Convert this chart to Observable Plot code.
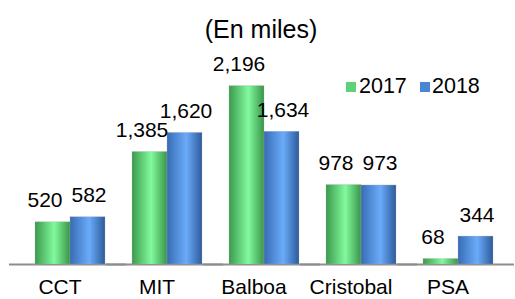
<!DOCTYPE html>
<html>
<head>
<meta charset="utf-8">
<script src="https://cdn.jsdelivr.net/npm/d3@7"></script>
<script src="https://cdn.jsdelivr.net/npm/@observablehq/plot@0.6"></script>
<style>
  html, body { margin: 0; padding: 0; background: #fff; }
  body { font-family: Arial, "Liberation Sans", sans-serif; }
  #wrap { position: relative; width: 515px; height: 299px; overflow: hidden; }
  #title { position: absolute; left: 0; width: 522px; top: 17px; text-align: center; font-size: 25px; line-height: 25px; color: #000; }
  .sw { position: absolute; width: 10px; height: 10px; top: 82px; }
  .lt { position: absolute; top: 76px; font-size: 21.5px; line-height: 21px; color: #000; }
  #chart { position: absolute; left: 0; top: 0; }
</style>
</head>
<body>
<svg width="0" height="0" style="position:absolute">
  <defs>
    <linearGradient id="g17" x1="0" x2="1" y1="0" y2="0">
      <stop offset="0" stop-color="#3b9a4c"/>
      <stop offset="0.55" stop-color="#82fa9d"/>
      <stop offset="1" stop-color="#389549"/>
    </linearGradient>
    <linearGradient id="g18" x1="0" x2="1" y1="0" y2="0">
      <stop offset="0" stop-color="#386cb4"/>
      <stop offset="0.55" stop-color="#6aabfa"/>
      <stop offset="1" stop-color="#2d5b9b"/>
    </linearGradient>
  </defs>
</svg>
<div id="wrap">
  <div id="chart"></div>
  <div id="title">(En miles)</div>
  <div class="sw" style="left:346px;background:#5dd27a"></div>
  <div class="lt" style="left:359px">2017</div>
  <div class="sw" style="left:420px;background:#4a86d6"></div>
  <div class="lt" style="left:432px">2018</div>
</div>
<script>
const categories = ["CCT", "MIT", "Balboa", "Cristobal", "PSA"];
const years = ["2017", "2018"];
const values2017 = [520, 1385, 2196, 978, 68];
const values2018 = [582, 1620, 1634, 973, 344];

const table = [];
categories.forEach((c, i) => {
  table.push({cat: c, year: years[0], value: values2017[i]});
  table.push({cat: c, year: years[1], value: values2018[i]});
});

const fmt = d3.format(",");
const labelOpts = {fx: "cat", x: "year", y: "value", text: d => fmt(d.value), lineAnchor: "bottom", dy: -15, fontSize: 21, fill: "#000"};

const chart = Plot.plot({
  width: 515,
  height: 299,
  marginTop: 0,
  marginBottom: 35,
  marginLeft: 20,
  marginRight: 8,
  style: {fontFamily: "Arial, 'Liberation Sans', sans-serif", color: "#000", background: "transparent", overflow: "visible"},
  fx: {domain: categories, paddingInner: 0, paddingOuter: 0, label: null, axis: null},
  x: {domain: years, paddingInner: 0, paddingOuter: 0.35, axis: null},
  y: {domain: [0, 3250], axis: null},
  color: {domain: years, range: ["url(#g17)", "url(#g18)"]},
  marks: [
    Plot.ruleY([0], {stroke: "#8d8d8d", strokeWidth: 2, insetLeft: -12, insetRight: -8}),
    Plot.barY(table, {fx: "cat", x: "year", y: "value", fill: "year", stroke: "#b0b0b0", strokeWidth: 0.5, strokeOpacity: 0.6}),
    Plot.text(table.filter(d => d.year === years[0]), {...labelOpts, dx: -8}),
    Plot.text(table.filter(d => d.year === years[1]), {...labelOpts, dx: 1}),
    Plot.axisFx({anchor: "bottom", tickSize: 0, tickPadding: 15, fontSize: 21, dx: -10, label: null})
  ]
});
document.getElementById("chart").appendChild(chart);
</script>
</body>
</html>
